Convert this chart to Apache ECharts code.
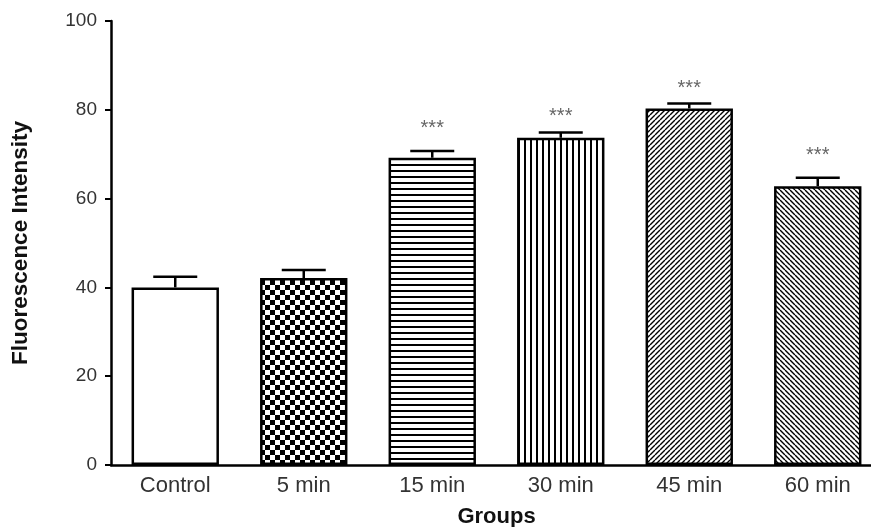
<!DOCTYPE html>
<html><head><meta charset="utf-8">
<script src="https://cdn.jsdelivr.net/npm/echarts@6/dist/echarts.min.js"></script>
<style>html,body{margin:0;padding:0;background:#fff;overflow:hidden;width:871px;height:527px}#c{width:900px;height:527px}</style>
</head><body><div id="c"></div>
<script>
const categories = ['Control', '5 min', '15 min', '30 min', '45 min', '60 min'];
const means = [40.0, 42.1, 69.2, 73.7, 80.3, 62.8];
const sem = [2.4, 1.8, 1.5, 1.2, 1.1, 1.9];
const stars = ['', '', '***', '***', '***', '***'];
const starLevel = [0, 0, 75.9, 78.4, 84.9, 69.8];
const yTicks = [0, 20, 40, 60, 80, 100];

function tile(size, draw) {
  const c = document.createElement('canvas');
  c.width = size; c.height = size;
  const g = c.getContext('2d');
  g.fillStyle = '#fff'; g.fillRect(0, 0, size, size);
  g.strokeStyle = '#000'; g.fillStyle = '#000';
  draw(g, size);
  return c;
}
const patterns = [
  null,
  tile(10, (g, s) => { g.fillRect(0, 0, 5, 5); g.fillRect(5, 5, 5, 5); }),
  tile(6, (g, s) => { g.lineWidth = 2; g.beginPath(); g.moveTo(0, 3); g.lineTo(s, 3); g.stroke(); }),
  tile(6, (g, s) => { g.lineWidth = 2; g.beginPath(); g.moveTo(3, 0); g.lineTo(3, s); g.stroke(); }),
  tile(5, (g, s) => { g.lineWidth = 1.4; g.beginPath();
    for (let k = -1; k <= 1; k++) { g.moveTo(k * s, s); g.lineTo(k * s + s, 0); } g.stroke(); }),
  tile(5, (g, s) => { g.lineWidth = 1.4; g.beginPath();
    for (let k = -1; k <= 1; k++) { g.moveTo(k * s, 0); g.lineTo(k * s + s, s); } g.stroke(); })
];

const barData = means.map((v, i) => ({
  value: v,
  itemStyle: { color: patterns[i] ? { image: patterns[i], repeat: 'repeat' } : '#fff' }
}));
const errData = means.map((v, i) => [i, v, v + sem[i], starLevel[i], stars[i]]);
const FONT = 'Liberation Sans, Arial, sans-serif';

const chart = echarts.init(document.getElementById('c'), null, { width: 900, height: 527 });
chart.setOption({
  animation: false,
  textStyle: { fontFamily: FONT },
  grid: { left: 111, width: 771, top: 21, height: 444, containLabel: false, outerBoundsMode: 'none' },
  xAxis: {
    type: 'category', data: categories,
    name: 'Groups', nameLocation: 'middle', nameGap: 41,
    nameTextStyle: { fontSize: 22, fontWeight: 'bold', color: '#111' },
    axisTick: { show: false },
    axisLine: { lineStyle: { color: '#000', width: 2.5 } },
    axisLabel: { color: '#333', fontSize: 22, margin: 10 }
  },
  yAxis: {
    type: 'value', min: 0, max: 100, interval: 20,
    name: 'Fluorescence Intensity', nameLocation: 'middle', nameGap: 79,
    nameTextStyle: { fontSize: 22.5, fontWeight: 'bold', color: '#111' },
    splitLine: { show: false },
    axisLine: { show: true, lineStyle: { color: '#000', width: 2.5 } },
    axisTick: { show: true, inside: false, length: 6, lineStyle: { color: '#000', width: 2 } },
    axisLabel: { color: '#333', fontSize: 19, margin: 14,
      formatter: v => yTicks.includes(v) ? String(v) : '' }
  },
  series: [
    {
      type: 'bar', data: barData, barCategoryGap: '32%',
      itemStyle: { borderColor: '#000', borderWidth: 2.5 }
    },
    {
      type: 'custom', data: errData, z: 3,
      renderItem: (params, api) => {
        const x = api.value(0);
        const lo = api.coord([x, api.value(1)]);
        const hi = api.coord([x, api.value(2)]);
        const half = 22;
        const ls = { stroke: '#000', lineWidth: 2.5 };
        const children = [
          { type: 'line', shape: { x1: lo[0], y1: lo[1], x2: hi[0], y2: hi[1] }, style: ls },
          { type: 'line', shape: { x1: hi[0] - half, y1: hi[1], x2: hi[0] + half, y2: hi[1] }, style: ls }
        ];
        const s = api.value(4);
        if (s) {
          const sp = api.coord([x, api.value(3)]);
          children.push({ type: 'text', style: { text: s, x: sp[0], y: sp[1],
            textAlign: 'center', textVerticalAlign: 'middle', fill: '#666', fontSize: 20,
            fontFamily: FONT } });
        }
        return { type: 'group', children };
      }
    }
  ]
});
</script></body></html>
